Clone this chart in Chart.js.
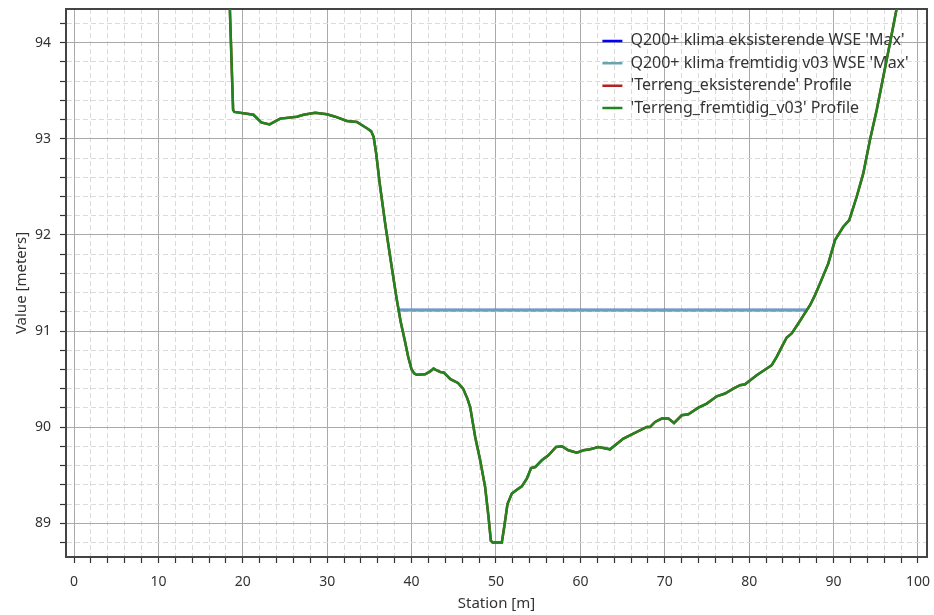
<!DOCTYPE html>
<html>
<head>
<meta charset="utf-8">
<title>Profile</title>
<script src="https://cdn.jsdelivr.net/npm/chart.js@4.4.1/dist/chart.umd.min.js"></script>
<style>
    html, body { margin: 0; padding: 0; background: #fff; }
    #wrap { width: 934px; height: 615px; }
</style>
</head>
<body>
<div id="wrap"><canvas id="profileChart" width="934" height="615"></canvas></div>
<script>
// Series names and colours (legend order)
const seriesLabels = [
    "Q200+ klima eksisterende WSE 'Max'",
    "Q200+ klima fremtidig v03 WSE 'Max'",
    "'Terreng_eksisterende' Profile",
    "'Terreng_fremtidig_v03' Profile"
];
const seriesColors = ['#0000ff', '#6aa3b0', '#b22222', '#1f861f'];

// Water surface (both runs give the same level)
const wseStation = [38.4, 86.8];
const wseExisting = [91.22, 91.22];
const wseFuture = [91.22, 91.22];

// Terrain profile (existing and v03 coincide)
const terrainStation = [
    18.3, 18.85, 19.0, 21.27, 22.18, 23.17, 24.43, 26.41, 27.19, 28.58,
    29.97, 30.95, 32.33, 33.52, 34.7, 35.2, 35.5, 35.8, 36.2, 36.9,
    37.5, 38.2, 38.7, 39.2, 39.6, 40.0, 40.3, 40.6, 41.6, 42.2,
    42.6, 43.0, 43.4, 43.8, 44.6, 45.5, 46.1, 46.6, 46.94, 47.53,
    48.12, 48.71, 49.11, 49.39, 49.6, 50.69, 50.97, 51.36, 51.88, 52.47,
    53.06, 53.65, 54.16, 54.64, 55.43, 56.21, 57.12, 57.8, 58.58, 59.58,
    60.36, 61.15, 62.13, 62.73, 63.52, 64.11, 65.1, 66.28, 67.87, 68.26,
    68.85, 69.64, 70.43, 71.1, 72.01, 72.79, 73.98, 74.97, 76.16, 77.14,
    78.12, 78.92, 79.51, 80.89, 82.08, 82.67, 83.26, 83.86, 84.45, 85.04,
    85.82, 86.62, 87.21, 87.8, 88.39, 89.38, 90.17, 91.15, 91.86, 92.74,
    93.52, 94.31, 95.11, 95.89, 96.68, 97.67, 98.2
];
const terrainElev = [
    94.8, 93.3, 93.28, 93.25, 93.17, 93.15, 93.21, 93.23, 93.25, 93.27,
    93.255, 93.23, 93.185, 93.175, 93.11, 93.08, 93.02, 92.85, 92.55, 92.1,
    91.75, 91.35, 91.1, 90.9, 90.73, 90.6, 90.56, 90.545, 90.55, 90.58,
    90.61, 90.59, 90.575, 90.57, 90.5, 90.46, 90.4, 90.3, 90.21, 89.9,
    89.66, 89.38, 89.07, 88.82, 88.8, 88.8, 88.96, 89.2, 89.31, 89.35,
    89.385, 89.465, 89.575, 89.586, 89.656, 89.708, 89.794, 89.802, 89.76, 89.736,
    89.76, 89.77, 89.794, 89.784, 89.77, 89.812, 89.882, 89.934, 90.003, 90.003,
    90.055, 90.09, 90.09, 90.044, 90.124, 90.135, 90.204, 90.246, 90.322, 90.35,
    90.402, 90.437, 90.447, 90.541, 90.61, 90.645, 90.731, 90.835, 90.933, 90.975,
    91.079, 91.189, 91.269, 91.374, 91.495, 91.704, 91.946, 92.085, 92.154, 92.397,
    92.64, 92.987, 93.299, 93.646, 93.994, 94.444, 94.7
];

// Axis labels
const xTickLabels = [0, 10, 20, 30, 40, 50, 60, 70, 80, 90, 100];
const yTickLabels = [89, 90, 91, 92, 93, 94];

const toPoints = (xs, ys) => xs.map((x, i) => ({ x: x, y: ys[i] }));
const isLabelled = (list, v) => list.some(t => Math.abs(t - v) < 1e-6);

Chart.defaults.font.family = '"Segoe UI", "Noto Sans", "Open Sans", sans-serif';
Chart.defaults.color = '#333';

// legend sits inside the plot, top right
const legendPlacer = {
    id: 'legendPlacer',
    afterLayout(chart) {
        const lg = chart.legend;
        if (!lg) return;
        const w = lg.width, h = lg.height;
        lg.left = 596;
        lg.right = 596 + w;
        lg.top = 26.5;
        lg.bottom = 26.5 + h;
    }
};

const frameColor = '#444';
const minorGrid = '#dadada';
const majorGrid = '#aaaaaa';

new Chart(document.getElementById('profileChart'), {
    type: 'line',
    data: {
        datasets: [
            {
                label: seriesLabels[0],
                data: toPoints(wseStation, wseExisting),
                borderColor: seriesColors[0],
                backgroundColor: seriesColors[0],
                borderWidth: 2.5,
                order: 4
            },
            {
                label: seriesLabels[1],
                data: toPoints(wseStation, wseFuture),
                borderColor: seriesColors[1],
                backgroundColor: seriesColors[1],
                borderWidth: 2.5,
                order: 3
            },
            {
                label: seriesLabels[2],
                data: toPoints(terrainStation, terrainElev),
                borderColor: seriesColors[2],
                backgroundColor: seriesColors[2],
                borderWidth: 2.5,
                order: 2
            },
            {
                label: seriesLabels[3],
                data: toPoints(terrainStation, terrainElev),
                borderColor: seriesColors[3],
                backgroundColor: seriesColors[3],
                borderWidth: 2.5,
                order: 1
            }
        ]
    },
    options: {
        responsive: false,
        animation: false,
        devicePixelRatio: 1,
        layout: { padding: { top: 9, right: 7, left: 0, bottom: 0 } },
        elements: {
            point: { radius: 0, hoverRadius: 0 },
            line: { tension: 0, fill: false }
        },
        scales: {
            x: {
                type: 'linear',
                position: 'bottom',
                min: -0.95,
                max: 101.07,
                ticks: {
                    stepSize: 2,
                    includeBounds: false,
                    autoSkip: false,
                    maxRotation: 0,
                    padding: 11,
                    font: { size: 14 },
                    color: '#333',
                    callback: v => isLabelled(xTickLabels, v) ? String(Math.round(v)) : ''
                },
                grid: { color: minorGrid, lineWidth: 1, tickLength: 6, tickColor: '#333', tickWidth: 1.2 },
                border: { color: frameColor, width: 2, dash: [5, 3] },
                title: { display: true, text: 'Station [m]', font: { size: 15 }, color: '#333', padding: { top: 4, bottom: 2 } },
                afterFit: s => { s.height = 58; s.paddingLeft = 0; s.paddingRight = 0; }
            },
            xMajor: {
                type: 'linear',
                position: 'top',
                min: -0.95,
                max: 101.07,
                ticks: { stepSize: 10, includeBounds: false, display: false },
                grid: { color: majorGrid, lineWidth: 1, drawTicks: false },
                border: { color: frameColor, width: 2 },
                afterFit: s => { s.height = 0; s.paddingLeft = 0; s.paddingRight = 0; }
            },
            y: {
                type: 'linear',
                position: 'left',
                min: 88.65,
                max: 94.35,
                ticks: {
                    stepSize: 0.2,
                    includeBounds: false,
                    autoSkip: false,
                    padding: 9,
                    font: { size: 14 },
                    color: '#333',
                    callback: v => isLabelled(yTickLabels, v) ? String(Math.round(v)) : ''
                },
                grid: { color: minorGrid, lineWidth: 1, tickLength: 6, tickColor: '#333', tickWidth: 1.2 },
                border: { color: frameColor, width: 2, dash: [5, 3] },
                title: { display: true, text: 'Value [meters]', font: { size: 15 }, color: '#333', padding: { top: 13, bottom: 4 } },
                afterFit: s => { s.width = 66; s.paddingTop = 0; s.paddingBottom = 0; }
            },
            yMajor: {
                type: 'linear',
                position: 'right',
                min: 88.65,
                max: 94.35,
                ticks: { stepSize: 1, includeBounds: false, display: false },
                grid: { color: majorGrid, lineWidth: 1, drawTicks: false },
                border: { color: frameColor, width: 2 },
                afterFit: s => { s.width = 0; s.paddingTop = 0; s.paddingBottom = 0; }
            }
        },
        plugins: {
            legend: {
                position: 'chartArea',
                align: 'start',
                reverse: true,
                labels: {
                    usePointStyle: true,
                    pointStyle: 'line',
                    pointStyleWidth: 20,
                    padding: 6.4,
                    color: '#333',
                    font: { size: 16 }
                }
            },
            tooltip: { enabled: false }
        }
    },
    plugins: [legendPlacer]
});
</script>
</body>
</html>
